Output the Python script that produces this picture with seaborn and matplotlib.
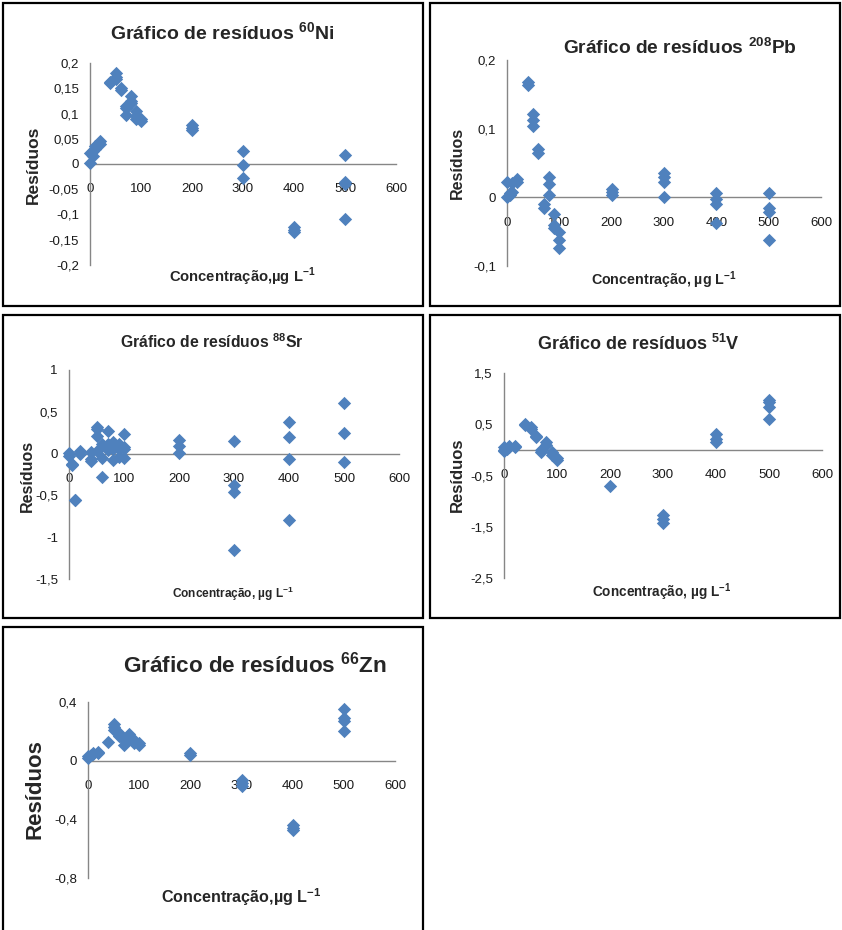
import matplotlib
matplotlib.use('Agg')
import matplotlib.pyplot as plt
import matplotlib.patches as mpatches
from matplotlib.ticker import FuncFormatter
import pandas as pd
import seaborn as sns

W, H = 842, 930

# ---- data (concentration in ug/L, residual) ----
ni_conc = [0, 0, 5, 5, 10, 10, 20, 20, 40, 40, 50, 50, 50, 60, 60, 70, 70, 70,
           80, 80, 80, 90, 90, 90, 100, 100, 200, 200, 200, 300, 300, 300,
           400, 400, 400, 500, 500, 500, 500]
ni_res = [0.002, 0.022, 0.015, 0.025, 0.030, 0.035, 0.040, 0.045, 0.160, 0.163,
          0.181, 0.172, 0.168, 0.150, 0.147, 0.098, 0.110, 0.115, 0.135, 0.125,
          0.120, 0.105, 0.090, 0.095, 0.090, 0.085, 0.077, 0.072, 0.067,
          0.025, -0.002, -0.027, -0.125, -0.130, -0.135, 0.018, -0.035, -0.040,
          -0.108]

pb_conc = [0, 0, 5, 5, 10, 10, 20, 20, 40, 40, 50, 50, 50, 60, 60, 70, 70,
           80, 80, 80, 90, 90, 90, 100, 100, 100, 200, 200, 200,
           300, 300, 300, 300, 400, 400, 400, 400, 500, 500, 500, 500]
pb_res = [0.000, 0.023, 0.003, 0.006, 0.021, 0.008, 0.027, 0.023, 0.168, 0.164,
          0.122, 0.113, 0.104, 0.070, 0.064, -0.010, -0.015, 0.030, 0.020, 0.003,
          -0.025, -0.040, -0.045, -0.050, -0.062, -0.074, 0.012, 0.008, 0.004,
          0.036, 0.030, 0.022, 0.000, 0.007, -0.003, -0.010, -0.037,
          0.007, -0.016, -0.022, -0.062]

sr_conc = [0, 0, 5, 5, 10, 10, 20, 20, 40, 40, 40, 50, 50, 50, 50, 60, 60, 60,
           70, 70, 70, 80, 80, 80, 90, 90, 90, 100, 100, 100, 100, 200, 200, 200,
           300, 300, 300, 300, 400, 400, 400, 400, 500, 500, 500]
sr_res = [0.01, -0.03, -0.13, -0.14, -0.55, -0.56, 0.03, 0.00, 0.02, -0.06, -0.09,
          0.32, 0.29, 0.21, 0.03, 0.12, -0.05, -0.28, 0.27, 0.12, 0.04,
          0.14, 0.05, -0.08, 0.12, 0.05, -0.04, 0.24, 0.08, 0.05, -0.05,
          0.16, 0.09, 0.01, 0.15, -0.37, -0.46, -1.15, 0.38, 0.20, -0.07, -0.80,
          0.60, 0.25, -0.10]

v_conc = [0, 0, 0, 5, 10, 10, 20, 20, 40, 40, 50, 50, 60, 60, 70, 70, 80, 80,
          90, 90, 100, 100, 200, 300, 300, 300, 400, 400, 400, 500, 500, 500, 500]
v_res = [0.05, 0.00, -0.03, 0.02, 0.08, 0.05, 0.08, 0.05, 0.50, 0.48, 0.45, 0.40,
         0.28, 0.25, 0.00, -0.05, 0.15, 0.10, -0.05, -0.10, -0.15, -0.20, -0.71,
         -1.28, -1.35, -1.42, 0.31, 0.22, 0.15, 0.98, 0.93, 0.84, 0.61]

zn_conc = [0, 0, 5, 10, 10, 20, 20, 40, 50, 50, 50, 60, 60, 70, 70, 80, 80,
           90, 90, 100, 100, 200, 200, 300, 300, 300, 400, 400, 400,
           500, 500, 500, 500]
zn_res = [0.020, 0.035, 0.040, 0.050, 0.045, 0.055, 0.060, 0.130, 0.250, 0.230,
          0.210, 0.190, 0.170, 0.110, 0.140, 0.180, 0.150, 0.140, 0.120, 0.110,
          0.120, 0.040, 0.050, -0.130, -0.150, -0.170, -0.440, -0.460, -0.470,
          0.350, 0.290, 0.270, 0.200]

x_ticks = [0, 100, 200, 300, 400, 500, 600]
ni_yticks = [-0.2, -0.15, -0.1, -0.05, 0, 0.05, 0.1, 0.15, 0.2]
pb_yticks = [-0.1, 0, 0.1, 0.2]
sr_yticks = [-1.5, -1, -0.5, 0, 0.5, 1]
v_yticks = [-2.5, -1.5, -0.5, 0.5, 1.5]
zn_yticks = [-0.8, -0.4, 0, 0.4]

titles = ['Gráfico de resíduos $^{\\mathbf{60}}$Ni',
          'Gráfico de resíduos $^{\\mathbf{208}}$Pb',
          'Gráfico de resíduos $^{\\mathbf{88}}$Sr',
          'Gráfico de resíduos $^{\\mathbf{51}}$V',
          'Gráfico de resíduos $^{\\mathbf{66}}$Zn']
xlabels = ['Concentração,µg L$^{\\mathbf{-1}}$',
           'Concentração, µg L$^{\\mathbf{-1}}$',
           'Concentração, µg L$^{\\mathbf{-1}}$',
           'Concentração, µg L$^{\\mathbf{-1}}$',
           'Concentração,µg L$^{\\mathbf{-1}}$']

sns.set_style('white')
plt.rcParams['font.family'] = ['Liberation Sans', 'DejaVu Sans']
plt.rcParams['mathtext.fontset'] = 'custom'
plt.rcParams['mathtext.bf'] = 'Liberation Sans:bold'
plt.rcParams['mathtext.rm'] = 'Liberation Sans'

fig = plt.figure(figsize=(W / 100, H / 100), dpi=100)


def fx(px):
    return px / W


def fy(py):
    return 1 - py / H


# panel frames (pixel boxes: left, top, right, bottom)
frames = [(3, 3, 423, 306), (430, 3, 840, 306), (3, 315, 423, 618),
          (430, 315, 840, 618), (3, 627, 423, 940)]
for l, t, r, b in frames:
    fig.patches.append(mpatches.Rectangle((fx(l), fy(b)), (r - l) / W, (b - t) / H,
                                          transform=fig.transFigure, fill=False,
                                          ec='black', lw=1.6))

panels = [
    # conc, res, yticks, axes box px, title (x,y,size), xlabel (x,y,size), ylabel (x,y,size)
    (ni_conc, ni_res, ni_yticks, (90, 63, 396, 265), (222, 33, 14), (242, 277, 10.6), (33, 165, 12.5)),
    (pb_conc, pb_res, pb_yticks, (507, 60, 821, 266), (680, 48, 13.8), (664, 280, 10.3), (457, 163, 11.5)),
    (sr_conc, sr_res, sr_yticks, (69, 370, 399, 579), (212, 342, 11.3), (233, 594, 8.6), (27, 476, 11.5)),
    (v_conc, v_res, v_yticks, (504, 373, 822, 578), (638, 344, 13), (662, 592, 9.8), (457, 475, 12)),
    (zn_conc, zn_res, zn_yticks, (88, 702, 395, 878), (255, 665, 16.2), (241, 897, 11.6), (35, 789, 16)),
]

fmt = FuncFormatter(lambda v, _: ('%g' % v).replace('.', ','))

for i, (conc, res, yt, box, tpos, xpos, ypos) in enumerate(panels):
    l, t, r, b = box
    ax = fig.add_axes([fx(l), fy(b), (r - l) / W, (b - t) / H])
    df = pd.DataFrame({'conc': conc, 'res': res})
    sns.scatterplot(data=df, x='conc', y='res', ax=ax, marker='D', color='#4F81BD',
                    s=46, linewidth=0, clip_on=False, zorder=3)
    ax.set_xlim(0, 600)
    ax.set_ylim(yt[0], yt[-1])
    ax.set_xticks(x_ticks)
    ax.set_yticks(yt)
    ax.yaxis.set_major_formatter(fmt)
    ax.set_xlabel('')
    ax.set_ylabel('')
    ax.patch.set_alpha(0)
    for s in ['top', 'right']:
        ax.spines[s].set_visible(False)
    ax.spines['bottom'].set_position(('data', 0))
    for s in ['left', 'bottom']:
        ax.spines[s].set_color('#868686')
        ax.spines[s].set_linewidth(1.0)
    ax.tick_params(axis='both', direction='out', length=4, width=1, color='#868686',
                   labelsize=9.5, labelcolor='#1a1a1a')
    ax.tick_params(axis='x', pad=10)
    ax.tick_params(axis='y', pad=4)

    fig.text(fx(tpos[0]), fy(tpos[1]), titles[i], ha='center', va='center',
             fontsize=tpos[2], fontweight='bold')
    fig.text(fx(xpos[0]), fy(xpos[1]), xlabels[i], ha='center', va='center',
             fontsize=xpos[2], fontweight='bold')
    fig.text(fx(ypos[0]), fy(ypos[1]), 'Resíduos', ha='center', va='center',
             rotation=90, fontsize=ypos[2], fontweight='bold')

fig.savefig('out.png', dpi=100)
